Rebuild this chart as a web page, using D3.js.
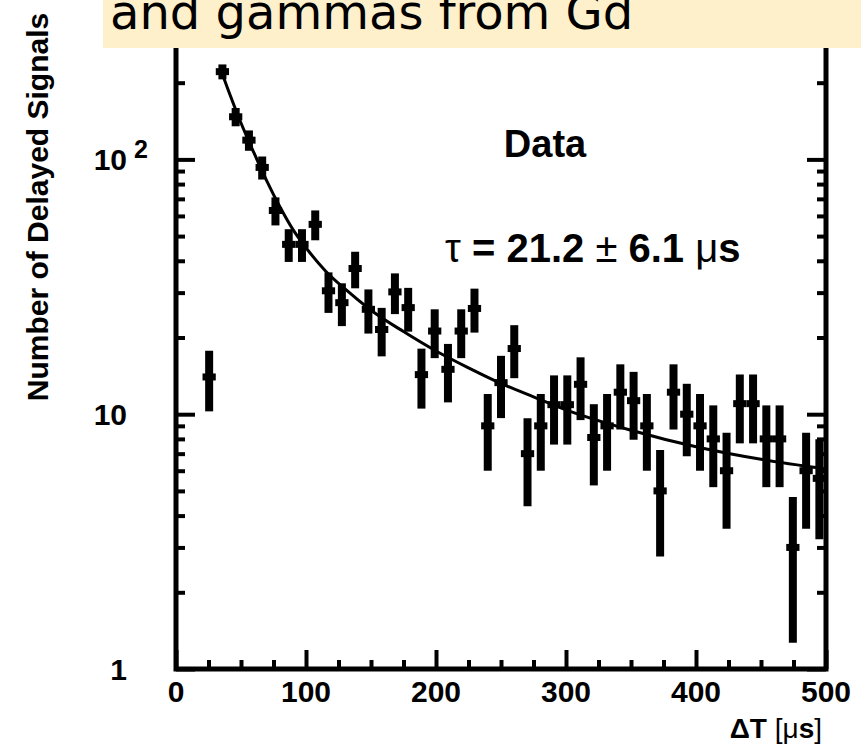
<!DOCTYPE html>
<html>
<head>
<meta charset="utf-8">
<script src="https://cdn.jsdelivr.net/npm/d3@7"></script>
<style>
  body { margin: 0; background: #fff; }
  svg { display: block; }
</style>
</head>
<body>
<svg id="chart"></svg>
<script>
// delayed signal time bins (µs) and counts
var binCenters = [25.5, 35.7, 45.9, 56.1, 66.3, 76.5, 86.7, 96.9, 107.1, 117.3,
    127.6, 137.8, 148, 158.2, 168.4, 178.6, 188.8, 199, 209.2, 219.4,
    229.6, 239.8, 250, 260.2, 270.4, 280.6, 290.8, 301, 311.2, 321.4,
    331.6, 341.8, 352, 362.2, 372.4, 382.7, 392.9, 403.1, 413.3, 423.5,
    433.7, 443.9, 454.1, 464.3, 474.5, 484.7, 494.9];
var counts = [14, 221, 147, 119, 93, 63, 46.4, 46.4, 55.6, 30.5,
    27.4, 37.3, 25.8, 21.5, 30.2, 26.2, 14.3, 21.2, 15, 21.2,
    26, 9, 13.3, 18.1, 7, 9, 10.9, 10.9, 13.1, 8.1,
    9, 12.2, 11.3, 9, 5, 12.2, 10, 9, 8, 6,
    11, 11, 8, 8, 3, 6, 5.6];

// fitted curve
var fitT = [35, 40, 50, 60, 70, 80, 90, 100, 115, 130, 150, 175, 200, 225, 250, 275, 300, 350, 400, 450, 500];
var fitN = [221, 188, 139, 106, 82, 65, 53, 45, 36.5, 31, 25.6, 21.1, 17.7, 15.2, 13.2, 11.7, 10.4, 8.65, 7.45, 6.65, 6.1];

var xMajor = [0, 100, 200, 300, 400, 500];
var xMinor = [25, 50, 75, 125, 150, 175, 225, 250, 275, 325, 350, 375, 425, 450, 475];
var yMajor = [1, 10, 100];
var yMinor = [2, 3, 4, 5, 6, 7, 8, 9, 20, 30, 40, 50, 60, 70, 80, 90, 200, 300];

var width = 861, height = 747;
var left = 176, right = 826, bottom = 669;
var binWidth = 10.2;

var svg = d3.select('#chart')
    .attr('width', width)
    .attr('height', height);

svg.append('rect')
    .attr('width', width)
    .attr('height', height)
    .attr('fill', '#fff');

var x = d3.scaleLinear()
    .domain([0, 500])
    .range([left, right]);

var y = d3.scaleLog()
    .domain([1, 316.2])
    .range([bottom, 32]);

var font = 'Liberation Sans, Arial, Helvetica, sans-serif';

// axes: ticks point into the frame
function styleAxis(g) {
    g.select('.domain').remove();
    g.selectAll('.tick line')
        .attr('stroke', '#000')
        .attr('stroke-width', 4);
}

svg.append('g')
    .attr('transform', 'translate(' + left + ',0)')
    .call(d3.axisRight(y).tickValues(yMinor).tickSize(9).tickFormat(''))
    .call(styleAxis);
svg.append('g')
    .attr('transform', 'translate(' + left + ',0)')
    .call(d3.axisRight(y).tickValues(yMajor).tickSize(19).tickFormat(''))
    .call(styleAxis);
svg.append('g')
    .attr('transform', 'translate(' + right + ',0)')
    .call(d3.axisLeft(y).tickValues(yMinor).tickSize(9).tickFormat(''))
    .call(styleAxis);
svg.append('g')
    .attr('transform', 'translate(' + right + ',0)')
    .call(d3.axisLeft(y).tickValues(yMajor).tickSize(19).tickFormat(''))
    .call(styleAxis);
svg.append('g')
    .attr('transform', 'translate(0,' + bottom + ')')
    .call(d3.axisTop(x).tickValues(xMinor).tickSize(9).tickFormat(''))
    .call(styleAxis);
svg.append('g')
    .attr('transform', 'translate(0,' + bottom + ')')
    .call(d3.axisTop(x).tickValues(xMajor).tickSize(19).tickFormat(''))
    .call(styleAxis);

// frame
svg.append('path')
    .attr('d', 'M' + left + ',' + y(316.2) + 'V' + bottom + 'H' + right + 'V' + y(316.2))
    .attr('fill', 'none')
    .attr('stroke', '#000')
    .attr('stroke-width', 5)
    .attr('stroke-linecap', 'square');

// x tick labels
svg.append('g')
    .selectAll('text')
    .data(xMajor)
    .enter().append('text')
    .attr('x', function (d) { return x(d); })
    .attr('y', 702)
    .attr('text-anchor', 'middle')
    .style('font-family', font)
    .style('font-weight', 'bold')
    .style('font-size', '30px')
    .text(function (d) { return d; });

// y tick labels
svg.append('g')
    .selectAll('text')
    .data(yMajor)
    .enter().append('text')
    .attr('x', 127)
    .attr('y', function (d) { return y(d) + 11; })
    .attr('text-anchor', 'end')
    .style('font-family', font)
    .style('font-weight', 'bold')
    .style('font-size', '30px')
    .text(function (d) { return d === 100 ? '10' : d; });

svg.append('text')
    .attr('x', 134)
    .attr('y', y(100) - 1)
    .style('font-family', font)
    .style('font-weight', 'bold')
    .style('font-size', '25px')
    .text('2');

// fit curve
var line = d3.line()
    .x(function (d, i) { return x(fitT[i]); })
    .y(function (d) { return y(d); })
    .curve(d3.curveMonotoneX);

svg.append('path')
    .datum(fitN)
    .attr('d', line)
    .attr('fill', 'none')
    .attr('stroke', '#000')
    .attr('stroke-width', 3);

// data points with sqrt(N) error bars
var pts = svg.append('g')
    .selectAll('g')
    .data(counts)
    .enter().append('g');

pts.append('line')
    .attr('x1', function (d, i) { return x(binCenters[i]); })
    .attr('x2', function (d, i) { return x(binCenters[i]); })
    .attr('y1', function (d) { return y(d + Math.sqrt(d)); })
    .attr('y2', function (d) { return y(d - Math.sqrt(d)); })
    .attr('stroke', '#000')
    .attr('stroke-width', 8);

pts.append('line')
    .attr('x1', function (d, i) { return x(binCenters[i] - binWidth / 2); })
    .attr('x2', function (d, i) { return x(binCenters[i] + binWidth / 2); })
    .attr('y1', function (d) { return y(d); })
    .attr('y2', function (d) { return y(d); })
    .attr('stroke', '#000')
    .attr('stroke-width', 7);

// annotations
svg.append('text')
    .attr('x', 545)
    .attr('y', 157)
    .attr('text-anchor', 'middle')
    .style('font-family', font)
    .style('font-weight', 'bold')
    .style('font-size', '38px')
    .text('Data');

var tau = svg.append('text')
    .attr('x', 445)
    .attr('y', 262)
    .style('font-family', font)
    .style('font-weight', 'bold')
    .style('font-size', '40px');
tau.append('tspan').style('font-weight', 'normal').text('\u03c4');
tau.append('tspan').text(' = 21.2 ');
tau.append('tspan').style('font-weight', 'normal').text('\u00b1');
tau.append('tspan').text(' 6.1 ');
tau.append('tspan').style('font-weight', 'normal').text('\u03bc');
tau.append('tspan').text('s');

// axis titles
var xt = svg.append('text')
    .attr('x', 822)
    .attr('y', 738)
    .attr('text-anchor', 'end')
    .style('font-family', font)
    .style('font-weight', 'bold')
    .style('font-size', '28px');
xt.append('tspan').text('\u0394T ');
xt.append('tspan').style('font-weight', 'normal').text('[\u03bc');
xt.append('tspan').text('s');
xt.append('tspan').style('font-weight', 'normal').text(']');

svg.append('text')
    .attr('transform', 'translate(48,207) rotate(-90)')
    .attr('text-anchor', 'middle')
    .style('font-family', font)
    .style('font-weight', 'bold')
    .style('font-size', '30px')
    .text('Number of Delayed Signals');

// slide title box over the top of the plot
svg.append('rect')
    .attr('x', 103)
    .attr('y', 0)
    .attr('width', width - 103)
    .attr('height', 48)
    .attr('fill', '#fff0cc');

svg.append('text')
    .attr('x', 110)
    .attr('y', 29)
    .style('font-family', 'DejaVu Sans, Verdana, sans-serif')
    .style('font-size', '48px')
    .text('and gammas from Gd');
</script>
</body>
</html>
